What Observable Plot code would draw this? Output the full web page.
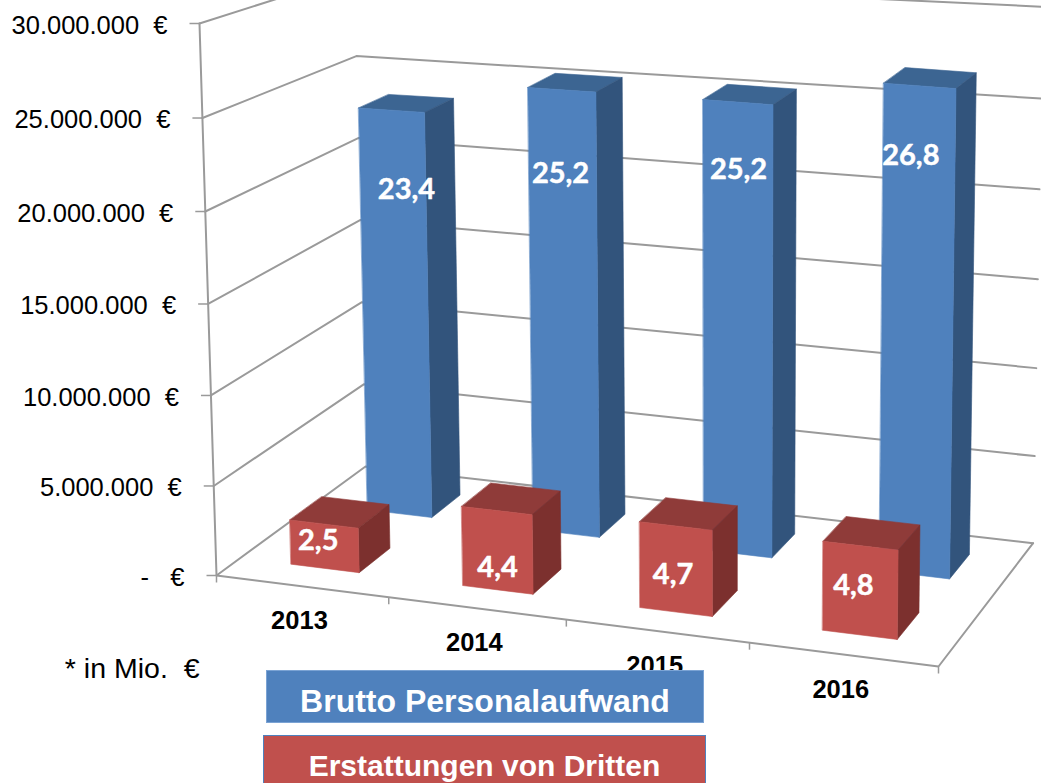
<!DOCTYPE html>
<html><head><meta charset="utf-8">
<style>
html,body{margin:0;padding:0;background:#fff;width:1041px;height:783px;overflow:hidden}
#wrap{position:relative;width:1041px;height:783px;overflow:hidden}
.leg{position:absolute;box-sizing:border-box;color:#fff;font:bold 30px "Liberation Sans",Arial,sans-serif;text-align:center;white-space:nowrap}
</style>
<script src="https://cdn.jsdelivr.net/npm/d3@7"></script>
<script src="https://cdn.jsdelivr.net/npm/@observablehq/plot@0.6"></script>
</head><body><div id="wrap"></div>
<script>
// ---- data ----
const years = ["2013","2014","2015","2016"];
const brutto = [23.4,25.2,25.2,26.8];       // Mio. €
const erstattung = [2.5,4.4,4.7,4.8];       // Mio. €
const axisValues = [0,5,10,15,20,25,30];    // Mio. €
const axisLabels = ["-\u00a0\u00a0\u00a0€","5.000.000\u00a0\u00a0€","10.000.000\u00a0\u00a0€","15.000.000\u00a0\u00a0€","20.000.000\u00a0\u00a0€","25.000.000\u00a0\u00a0€","30.000.000\u00a0\u00a0€"];
const bruttoText = ["23,4","25,2","25,2","26,8"];
const erstattungText = ["2,5","4,4","4,7","4,8"];

// ---- label placement on the front faces (value height, shift along the category axis) ----
const bruttoLabelAt = [18.9,20.5,21.5,23.05], bruttoLabelShift = [.019,-.004,.0,-.012];
const erstLabelAt = [1.5,1.25,2,2.6], erstLabelShift = [-.009,0,-.004,-.009];

// ---- 3D camera: image of the box edges, with perspective weights ----
const O=[216,575], B=[938,666], D=[365,466], T=[199,23];
const su=.94, sw=1.09, sv=.968, vMax=30;
function proj(u,w,val){
  const v=val/vMax;
  const h=[0,1].map(i=>O[i]+u*(su*B[i]-O[i])+w*(sw*D[i]-O[i])+v*(sv*T[i]-O[i]));
  const d=1+u*(su-1)+w*(sw-1)+v*(sv-1);
  // small correction of the far upper-left corner, which the reference draws lower than a pure camera
  return {x:h[0]/d,y:h[1]/d+16*w*v*v*(1-u)*(1-u)};
}
// ---- grid ----
const gridPts=[];
axisValues.forEach(v=>{[[0,0],[0,1],[1,1]].forEach(([u,w])=>gridPts.push({id:"g"+v,...proj(u,w,v)}));});
[[0,0,0],[0,0,vMax]].forEach(([u,w,v])=>gridPts.push({id:"axis",...proj(u,w,v)}));
[[0,0],[1,0],[1,1]].forEach(([u,w])=>gridPts.push({id:"floor",...proj(u,w,0)}));

// ---- bars: one polygon per visible face ----
const rows={back:[.64,.85],front:[.15,.36]};
const faces=[];
function addBar(id,uc,bw,[w0,w1],val,cFront,cTop,cSide){
  const u0=uc-bw,u1=uc+bw;
  const poly=(name,c,pts)=>pts.forEach(p=>faces.push({id:id+name,color:c,...proj(...p)}));
  poly("top",cTop,[[u0,w0,val],[u1,w0,val],[u1,w1,val],[u0,w1,val]]);
  poly("side",cSide,[[u1,w0,0],[u1,w1,0],[u1,w1,val],[u1,w0,val]]);
  poly("front",cFront,[[u0,w0,0],[u1,w0,0],[u1,w0,val],[u0,w0,val]]);
}
const uc=i=>.125+.25*i;
brutto.forEach((v,i)=>addBar("b"+i,uc(i)+.005,.049,rows.back,v,"#4f81bd","#3c6592","#32547c"));
erstattung.forEach((v,i)=>addBar("e"+i,uc(i),.05,rows.front,v,"#c0504d","#8f3b39","#7c302e"));

const bruttoLabels=brutto.map((v,i)=>({t:bruttoText[i],...proj(uc(i)+bruttoLabelShift[i]+.006,rows.back[0],bruttoLabelAt[i])}));
const erstLabels=erstattung.map((v,i)=>({t:erstattungText[i],...proj(uc(i)+erstLabelShift[i],rows.front[0],erstLabelAt[i])}));
const axisPts=axisValues.map((v,i)=>({t:axisLabels[i],...proj(0,0,v)}));
const yearPts=years.map((t,i)=>({t,...proj(uc(i),0,0)}));
const catTicks=[0,.25,.5,.75,1].map(u=>proj(u,0,0));

const plot=Plot.plot({
  width:1041,height:783,margin:0,
  x:{type:"linear",domain:[0,1041],range:[0,1041],axis:null},
  y:{type:"linear",domain:[0,783],range:[0,783],axis:null},
  color:{type:"identity"},
  marks:[
    Plot.line(gridPts,{x:"x",y:"y",z:"id",stroke:"#9a9a9a",strokeWidth:2}),
    Plot.link(axisPts,{x1:d=>d.x-10,x2:"x",y1:"y",y2:"y",stroke:"#9a9a9a",strokeWidth:1.5}),
    Plot.link(catTicks,{x1:"x",x2:"x",y1:"y",y2:d=>d.y+7,stroke:"#9a9a9a",strokeWidth:1.5}),
    Plot.line(faces,{x:"x",y:"y",z:"id",fill:"color",stroke:"color",strokeWidth:.6,curve:"linear-closed"}),
    Plot.text(axisPts,{x:d=>d.x-32,y:d=>d.y+2,text:"t",textAnchor:"end",fontFamily:"Liberation Sans",fontSize:25.5,letterSpacing:.45,fill:"#000"}),
    Plot.text(yearPts,{x:d=>d.x-2.5,y:d=>d.y+35,text:"t",fontFamily:"Liberation Sans",fontWeight:"bold",fontSize:25.5,fill:"#000"}),
    Plot.text(bruttoLabels,{x:"x",y:"y",text:"t",fontFamily:"Lato",fontWeight:"bold",fontSize:29,stroke:"#fff",strokeWidth:.5,fill:"#fff"}),
    Plot.text(erstLabels,{x:"x",y:"y",text:"t",fontFamily:"Lato",fontWeight:"bold",fontSize:29,stroke:"#fff",strokeWidth:.5,fill:"#fff"}),
    Plot.text(["* in Mio.\u00a0\u00a0€"],{x:()=>199,y:()=>668,text:d=>d,textAnchor:"end",fontFamily:"Liberation Sans",fontSize:28.5,letterSpacing:-1,fill:"#000"})
  ]
});
const wrap=document.getElementById("wrap");
wrap.appendChild(plot);
const leg=(text,bg,border,l,t,w,h,fs,lh)=>{
  const e=document.createElement("div");e.className="leg";e.textContent=text;
  Object.assign(e.style,{left:l+"px",top:t+"px",width:w+"px",height:h+"px",lineHeight:lh+"px",fontSize:fs+"px",background:bg,border:"1.5px solid "+border});
  wrap.appendChild(e);
};
leg("Brutto Personalaufwand","#4f81bd","#7ba3d4",266,670,438,53,32,60);
leg("Erstattungen von Dritten","#c0504d","#4f81bd",263,735,443,62,30,59);
</script></body></html>
